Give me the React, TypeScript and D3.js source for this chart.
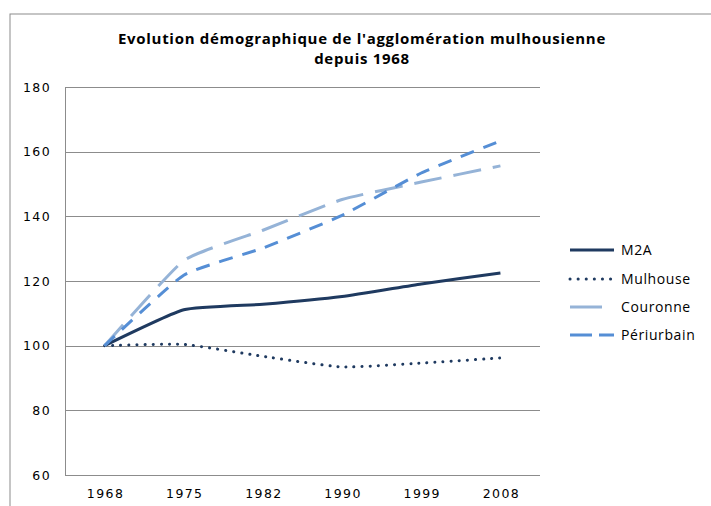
import React from "react";
import * as d3 from "d3";

const years = ["1968", "1975", "1982", "1990", "1999", "2008"];
const m2a = [100, 111.1, 112.8, 115.2, 119.1, 122.5];
const mulhouse = [100, 100.4, 96.7, 93.4, 94.6, 96.2];
const couronne = [100, 126.3, 135.7, 145.2, 150.6, 155.6];
const periurbain = [100, 121.8, 130.2, 140.3, 153.4, 163.3];
const yTicks = [60, 80, 100, 120, 140, 160, 180];
const seriesNames = ["M2A", "Mulhouse", "Couronne", "Périurbain"];
const titleLines = ["Evolution démographique de l'agglomération mulhousienne", "depuis 1968"];

const W = 711;
const H = 506;
const plot = { left: 65, right: 540, top: 87, bottom: 475 };

export default function App() {
  const x = d3.scalePoint<string>().domain(years).range([plot.left, plot.right]).padding(0.5);
  const y = d3.scaleLinear().domain([60, 180]).range([plot.bottom, plot.top]);
  const line = d3
    .line<number>()
    .x((_, i) => x(years[i]) as number)
    .y((d) => y(d))
    .curve(d3.curveCardinal.tension(0.55));

  const series = [
    { name: seriesNames[0], values: m2a, color: "#1F3A60", dash: "none", cap: "butt" },
    { name: seriesNames[1], values: mulhouse, color: "#1F3A60", dash: "0.1,8", cap: "round" },
    { name: seriesNames[2], values: couronne, color: "#95B3D7", dash: "28,12", cap: "butt" },
    { name: seriesNames[3], values: periurbain, color: "#558ED5", dash: "14,10", cap: "butt" },
  ];
  const legendY = [250, 279, 307, 335];
  const legendDash = ["none", "0.1,8", "32,20", "22,7"];

  const font = "'DejaVu Sans', Verdana, sans-serif";

  return (
    <svg width={W} height={H} style={{ position: "absolute", left: 0, top: 0 }}>
      <rect x={0} y={0} width={W} height={H} fill="#fff" />
      <rect x={10} y={14} width={W + 10} height={H + 10} fill="none" stroke="#8c8c8c" strokeWidth={1} />
      {titleLines.map((t, i) => (
        <text
          key={i}
          x={362}
          y={44 + i * 20}
          textAnchor="middle"
          fontFamily="'Open Sans', sans-serif"
          fontWeight="bold"
          fontSize={15}
          letterSpacing={0.7}
          fill="#000"
        >
          {t}
        </text>
      ))}
      {yTicks.map((t) => (
        <g key={t}>
          <line
            x1={plot.left}
            x2={plot.right}
            y1={Math.round(y(t)) + 0.5}
            y2={Math.round(y(t)) + 0.5}
            stroke="#8c8c8c"
            strokeWidth={1}
          />
          <text
            x={51}
            y={y(t) + 4.5}
            textAnchor="end"
            fontFamily={font}
            fontSize={12.5}
            letterSpacing={1.4}
            fill="#000"
          >
            {t}
          </text>
        </g>
      ))}
      <line x1={plot.left + 0.5} x2={plot.left + 0.5} y1={plot.top} y2={plot.bottom} stroke="#8c8c8c" />
      {years.map((yr) => (
        <text
          key={yr}
          x={(x(yr) as number) + 1}
          y={498}
          textAnchor="middle"
          fontFamily={font}
          fontSize={12.5}
          letterSpacing={1.4}
          fill="#000"
        >
          {yr}
        </text>
      ))}
      {series.map((s) => (
        <path
          key={s.name}
          d={line(s.values) || ""}
          fill="none"
          stroke={s.color}
          strokeWidth={3}
          strokeDasharray={s.dash}
          strokeLinecap={s.cap as any}
          strokeLinejoin="round"
        />
      ))}
      {series.map((s, i) => (
        <g key={s.name}>
          <line
            x1={570}
            x2={614}
            y1={legendY[i]}
            y2={legendY[i]}
            stroke={s.color}
            strokeWidth={3}
            strokeDasharray={legendDash[i]}
            strokeLinecap={s.cap as any}
          />
          <text
            x={621}
            y={legendY[i] + 5}
            fontFamily="'Open Sans', sans-serif"
            fontSize={14}
            letterSpacing={0.6}
            fill="#000"
          >
            {s.name}
          </text>
        </g>
      ))}
    </svg>
  );
}
